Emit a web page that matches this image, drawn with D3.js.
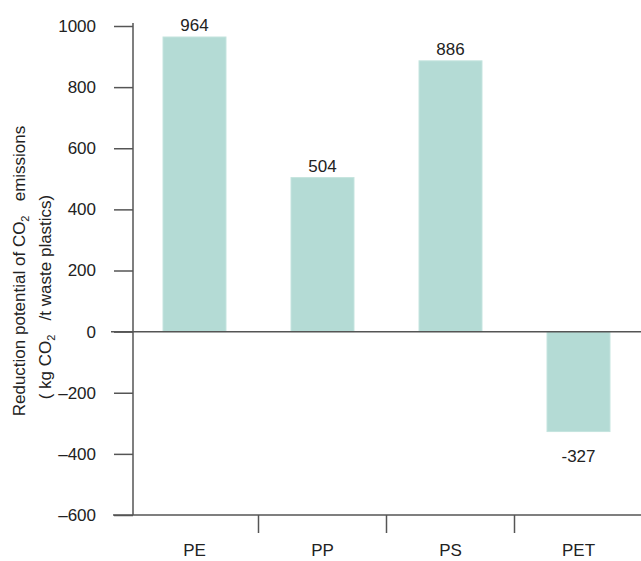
<!DOCTYPE html>
<html><head><meta charset="utf-8">
<script src="https://cdn.jsdelivr.net/npm/d3@7/dist/d3.min.js"></script>
<style>
body{margin:0;background:#fff}
text{font-family:"Liberation Sans",Arial,Helvetica,sans-serif;fill:#222}
</style>
</head><body>
<svg id="c" width="641" height="561"></svg>
<script>
const categories = ["PE", "PP", "PS", "PET"];
const values = [964, 504, 886, -327];
const yTicks = [-600, -400, -200, 0, 200, 400, 600, 800, 1000];
const yLabelLine1 = ["Reduction potential of CO", "2", "  emissions"];
const yLabelLine2 = ["( kg CO", "2", "  /t waste plastics)"];

const svg = d3.select("#c");
const axisColor = "#555";
const barColor = "#b4dbd5";
const fs = 17;

const y = d3.scaleLinear().domain([-600, 1000]).range([515, 26]);
const x = d3.scaleBand().domain(categories).range([130.5, 642.5])
  .paddingInner(0.508).paddingOuter(0.254);
const axisX = 133;

// bars
svg.append("g").selectAll("rect").data(values).join("rect")
  .attr("x", (d, i) => x(categories[i]))
  .attr("width", x.bandwidth())
  .attr("y", d => y(Math.max(0, d)))
  .attr("height", d => Math.abs(y(d) - y(0)))
  .attr("fill", barColor)
  .attr("stroke", "#c4e4de").attr("stroke-width", 1);

// value labels
svg.append("g").selectAll("text").data(values).join("text")
  .attr("x", (d, i) => x(categories[i]) + x.bandwidth() / 2)
  .attr("y", d => d >= 0 ? y(d) - 6 : y(d) + 30)
  .attr("text-anchor", "middle")
  .attr("font-size", fs)
  .text(d => d);

// y axis
const yAxis = d3.axisLeft(y).tickValues(yTicks).tickSize(19).tickPadding(18)
  .tickFormat(d => d < 0 ? "\u2013" + Math.abs(d) : d);
const gy = svg.append("g").attr("transform", `translate(${axisX},0)`).call(yAxis);
gy.select(".domain").remove();
gy.selectAll(".tick line").attr("stroke", axisColor).attr("stroke-width", 1.5);
gy.selectAll(".tick text").attr("font-size", fs).attr("fill", "#222")
  .attr("font-family", '"Liberation Sans",Arial,sans-serif');
svg.append("line").attr("x1", axisX).attr("x2", axisX)
  .attr("y1", y(1000) - 3).attr("y2", y(-600))
  .attr("stroke", axisColor).attr("stroke-width", 1.5);

// zero line
svg.append("line").attr("x1", 111).attr("x2", 641)
  .attr("y1", y(0)).attr("y2", y(0))
  .attr("stroke", axisColor).attr("stroke-width", 1.5);

// bottom axis
const yb = y(-600);
svg.append("line").attr("x1", 113).attr("x2", 641)
  .attr("y1", yb).attr("y2", yb)
  .attr("stroke", axisColor).attr("stroke-width", 1.5);
const step = x.step();
svg.append("g").selectAll("line").data(categories.slice(1)).join("line")
  .attr("x1", d => x(d) - (step - x.bandwidth()) / 2)
  .attr("x2", d => x(d) - (step - x.bandwidth()) / 2)
  .attr("y1", yb).attr("y2", yb + 18)
  .attr("stroke", axisColor).attr("stroke-width", 1.5);
svg.append("g").selectAll("text").data(categories).join("text")
  .attr("x", d => x(d) + x.bandwidth() / 2)
  .attr("y", 556)
  .attr("text-anchor", "middle")
  .attr("font-size", fs)
  .text(d => d);

// y label
function addLabel(parts, cx, cy) {
  const t = svg.append("text")
    .attr("transform", `translate(${cx},${cy}) rotate(-90)`)
    .attr("text-anchor", "middle")
    .attr("font-size", fs);
  t.append("tspan").text(parts[0]);
  t.append("tspan").attr("font-size", fs * 0.65).attr("dy", 4).text(parts[1]);
  t.append("tspan").attr("dy", -4).text("\u00a0\u00a0\u00a0" + parts[2].trim());
}
addLabel(yLabelLine1, 25, 271);
addLabel(yLabelLine2, 51, 297);
</script>
</body></html>
